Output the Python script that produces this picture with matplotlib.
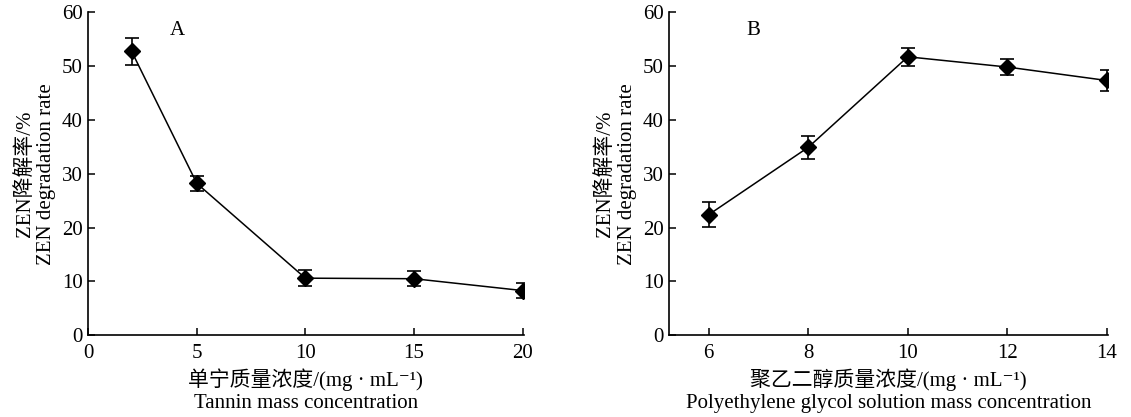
import matplotlib
matplotlib.use("Agg")
import matplotlib.pyplot as plt

plt.rcParams['font.family'] = ['Liberation Serif', 'Noto Sans CJK SC', 'DejaVu Serif']

# Panel A: tannin
tannin_conc = [2, 5, 10, 15, 20]
tannin_rate = [52.7, 28.2, 10.6, 10.5, 8.3]
tannin_err = [2.5, 1.4, 1.5, 1.4, 1.4]

# Panel B: polyethylene glycol
peg_conc = [6, 8, 10, 12, 14]
peg_rate = [22.4, 34.9, 51.7, 49.8, 47.3]
peg_err = [2.3, 2.1, 1.7, 1.4, 1.9]

ylab = "ZEN降解率/%\nZEN degradation rate"
xlab_a = "单宁质量浓度/(mg · mL⁻¹)\nTannin mass concentration"
xlab_b = "聚乙二醇质量浓度/(mg · mL⁻¹)\nPolyethylene glycol solution mass concentration"

fig = plt.figure(figsize=(11.31, 4.17), dpi=100)
ax1 = fig.add_axes([0.078, 0.196, 0.385, 0.775])
ax2 = fig.add_axes([0.5915, 0.196, 0.388, 0.775])

fs = 15


def draw(ax, x, y, e, xlim, xticks, xlab, tag, tagx):
    ax.errorbar(x, y, yerr=e, color='black', marker='D', markersize=8,
                linewidth=1.1, elinewidth=1.2, capsize=5, capthick=1.2)
    ax.set_xlim(*xlim)
    ax.set_ylim(0, 60)
    ax.set_xticks(xticks)
    ax.set_yticks(range(0, 61, 10))
    ax.spines['top'].set_visible(False)
    ax.spines['right'].set_visible(False)
    ax.spines['left'].set_linewidth(1.2)
    ax.spines['bottom'].set_linewidth(1.2)
    ax.tick_params(labelsize=fs, direction='in', length=5, width=1.1)
    ax.tick_params(axis='x', pad=6)
    ax.tick_params(axis='y', pad=4)
    ax.set_ylabel(ylab, fontsize=fs, linespacing=1.2, labelpad=4)
    ax.set_xlabel(xlab, fontsize=fs, linespacing=1.2, labelpad=4)
    ax.text(tagx, 56.5, tag, fontsize=fs, ha='center', va='center')


draw(ax1, tannin_conc, tannin_rate, tannin_err, (0.1, 20.05),
     [0, 5, 10, 15, 20], xlab_a, "A", 4.1)
draw(ax2, peg_conc, peg_rate, peg_err, (5.2, 14.02),
     [6, 8, 10, 12, 14], xlab_b, "B", 6.9)

fig.savefig("out.png", dpi=100)
